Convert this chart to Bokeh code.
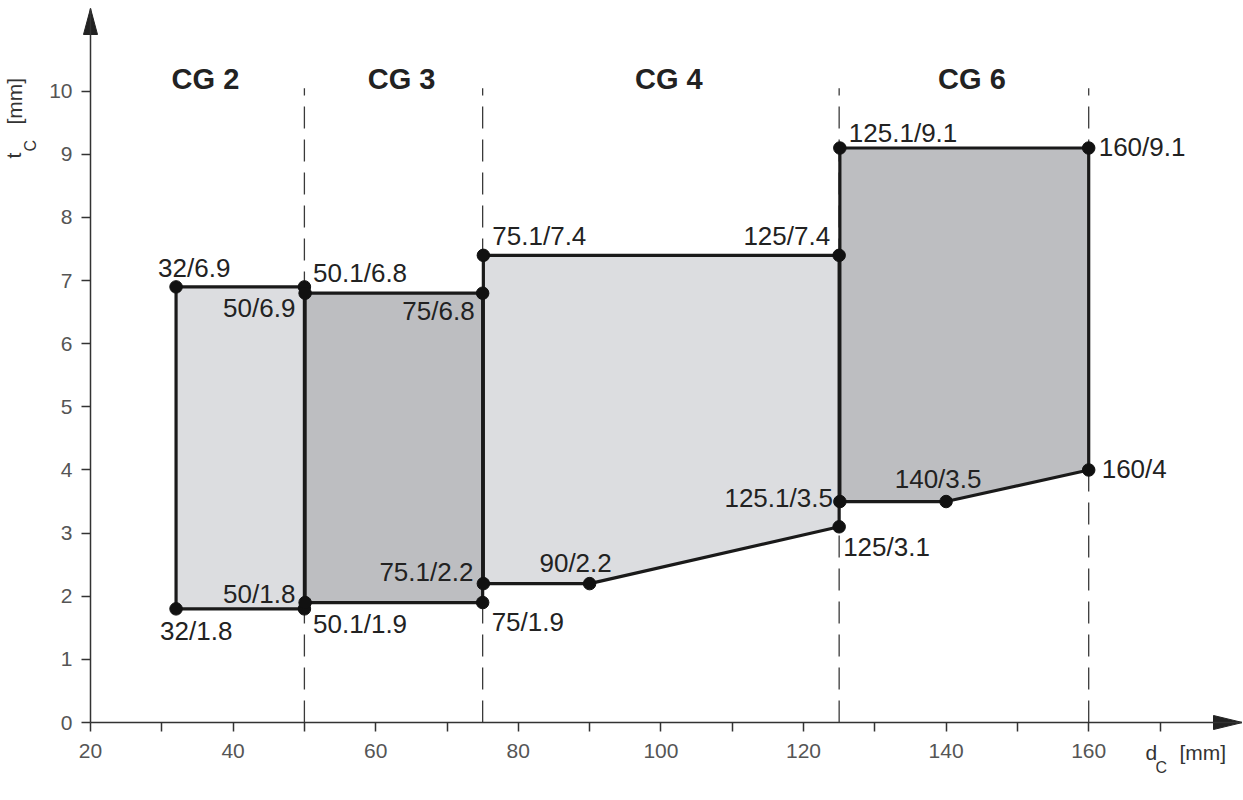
import numpy as np
from bokeh.plotting import figure
from bokeh.models import ColumnDataSource, FixedTicker, Label, Range1d
from bokeh.core.properties import value
from bokeh.embed import file_html
from bokeh.resources import INLINE

# ---------------- data ----------------
groups = ["CG 2", "CG 3", "CG 4", "CG 6"]
group_edges = [20, 50, 75, 125, 160]

cg2_x = [32, 50, 50, 32]
cg2_y = [1.8, 1.8, 6.9, 6.9]
cg3_x = [50.1, 75, 75, 50.1]
cg3_y = [1.9, 1.9, 6.8, 6.8]
cg4_x = [75.1, 90, 125, 125, 75.1]
cg4_y = [2.2, 2.2, 3.1, 7.4, 7.4]
cg6_x = [125.1, 140, 160, 160, 125.1]
cg6_y = [3.5, 3.5, 4, 9.1, 9.1]

x_ticks = [20, 40, 60, 80, 100, 120, 140, 160]
x_minor_ticks = [30, 50, 70, 90, 110, 130, 150, 170]
y_ticks = [0, 1, 2, 3, 4, 5, 6, 7, 8, 9, 10]

# ---------------- styles ----------------
FONT_NAME = "Liberation Sans"
FONT = value(FONT_NAME)
LIGHT = "#dcdde0"
DARK = "#bdbec1"
fills = [LIGHT, DARK, LIGHT, DARK]
BASE_FIX = 0.36          # empirical baseline correction (fraction of font size)
LABEL_PX = 26
TITLE_PX = 29
AXLAB_PX = 21
SUB_PX = 16

# label placement (align, dx px, dy px; dy positive = down)
LABEL_STYLE = {
    "32/1.8": ("left", -16, 31),
    "50/1.8": ("right", -9, -6),
    "50/6.9": ("right", -9, 30),
    "32/6.9": ("left", -18, -10),
    "50.1/1.9": ("left", 8, 31),
    "75/1.9": ("left", 9, 29),
    "75/6.8": ("right", -8, 27),
    "50.1/6.8": ("left", 8, -11),
    "75.1/2.2": ("right", -10, -2),
    "90/2.2": ("center", -14, -11),
    "125/3.1": ("left", 4, 30),
    "125/7.4": ("right", -9, -10),
    "75.1/7.4": ("left", 9, -10),
    "125.1/3.5": ("right", -7, 6),
    "140/3.5": ("center", -8, -13),
    "160/4": ("left", 13, 8),
    "160/9.1": ("left", 10, 8),
    "125.1/9.1": ("left", 9, -6),
}

# ---------------- canvas geometry (frame = whole canvas) ----------------
W, H = 1242, 798
X0_PX, Y0_PX = 90, 722   # canvas position of data origin (20, 0)
SX, SY = 7.13, 63.13     # px per data unit
x_start = 20 - X0_PX / SX
x_end = x_start + W / SX
y_end = Y0_PX / SY
y_start = y_end - H / SY
ax_x_end = 20 + (W - X0_PX) / SX      # arrow tip of x axis
ax_y_end = (Y0_PX - 8) / SY           # arrow tip of y axis


def dx(px):
    return px / SX


def dy(px):
    return px / SY


def cx(px):
    return x_start + px / SX


def cy(py):
    return y_end - py / SY


p = figure(width=W, height=H, output_backend="svg", toolbar_location=None,
           x_range=Range1d(x_start, x_end), y_range=Range1d(y_start, y_end),
           min_border=0, min_border_left=0, min_border_bottom=0,
           min_border_top=0, min_border_right=0)
p.outline_line_color = None
p.xgrid.visible = False
p.ygrid.visible = False
p.background_fill_color = "white"
p.border_fill_color = "white"

# axes
for ax in (p.xaxis[0], p.yaxis[0]):
    ax.axis_line_color = "#333333"
    ax.axis_line_width = 1.5
    ax.major_tick_line_color = "#333333"
    ax.minor_tick_line_color = "#333333"
    ax.major_tick_line_width = 1.5
    ax.minor_tick_line_width = 1.5
    ax.major_tick_in = 0
    ax.major_tick_out = 9
    ax.major_label_text_font = FONT_NAME
    ax.major_label_text_font_size = "21px"
    ax.major_label_text_color = "#555555"

p.xaxis.major_label_standoff = 12
p.yaxis.major_label_standoff = 9
p.xaxis.fixed_location = 0
p.yaxis.fixed_location = 20
p.xaxis.bounds = (20, ax_x_end)
p.yaxis.bounds = (0, ax_y_end)
p.xaxis.ticker = FixedTicker(ticks=x_ticks, minor_ticks=x_minor_ticks)
p.xaxis.minor_tick_in = 0
p.xaxis.minor_tick_out = 9
p.yaxis.ticker = FixedTicker(ticks=y_ticks, minor_ticks=[])
p.yaxis.minor_tick_out = 0
p.yaxis.minor_tick_in = 0

# arrowheads
p.patch([20 - dx(7), 20, 20 + dx(7)],
        [ax_y_end - dy(26), ax_y_end, ax_y_end - dy(26)],
        color="#222222", line_width=1)
p.patch([ax_x_end - dx(29), ax_x_end, ax_x_end - dx(29)], [dy(7), 0, -dy(7)],
        color="#222222", line_width=1)

# dashed group separators
sep = group_edges[1:]
p.segment(x0=sep, y0=[0] * len(sep), x1=sep, y1=[max(y_ticks) + dy(3)] * len(sep),
          line_color="#3a3a3a", line_width=1.3, line_dash="22 11")

# group titles
mids = [(a + b) / 2 for a, b in zip(group_edges[:-1], group_edges[1:])]
p.text(x=mids, y=[max(y_ticks)] * len(mids), text=groups, text_font=FONT,
       text_font_size=f"{TITLE_PX}px", text_font_style="bold", text_color="#222222",
       text_align="center", text_baseline="alphabetic", x_offset=8,
       y_offset=-2 - BASE_FIX * TITLE_PX)

# polygons
polys = [(cg2_x, cg2_y), (cg3_x, cg3_y), (cg4_x, cg4_y), (cg6_x, cg6_y)]
for (xs, ys), fc in zip(polys, fills):
    p.patch(xs, ys, fill_color=fc, line_color="#1a1a1a", line_width=3.2)

# points
all_x = [v for xs, _ in polys for v in xs]
all_y = [v for _, ys in polys for v in ys]
p.scatter(all_x, all_y, size=12.5, color="#111111")

# point labels
by_align = {}
for xv, yv in zip(all_x, all_y):
    t = f"{xv:g}/{yv:g}"
    al, ox, oy = LABEL_STYLE[t]
    d = by_align.setdefault(al, dict(x=[], y=[], text=[], xo=[], yo=[]))
    d["x"].append(xv); d["y"].append(yv); d["text"].append(t)
    d["xo"].append(ox); d["yo"].append(oy - BASE_FIX * LABEL_PX)
for al, d in by_align.items():
    src = ColumnDataSource(d)
    p.text(x="x", y="y", text="text", x_offset="xo", y_offset="yo", source=src,
           text_font=FONT, text_font_size=f"{LABEL_PX}px", text_color="#222222",
           text_align=al, text_baseline="alphabetic")

# axis titles (canvas px -> data)
lab_kw = dict(text_font=FONT_NAME, text_color="#333333", text_baseline="alphabetic",
              text_align="left")
fa, fs = BASE_FIX * AXLAB_PX, BASE_FIX * SUB_PX
p.add_layout(Label(x=cx(21 - fa), y=cy(158), text="t", angle=np.pi / 2,
                   text_font_size=f"{AXLAB_PX}px", **lab_kw))
p.add_layout(Label(x=cx(36 - fs), y=cy(151), text="C", angle=np.pi / 2,
                   text_font_size=f"{SUB_PX}px", **lab_kw))
p.add_layout(Label(x=cx(22 - fa), y=cy(124), text="[mm]", angle=np.pi / 2,
                   text_font_size=f"{AXLAB_PX}px", **lab_kw))
p.add_layout(Label(x=cx(1145), y=cy(760 - fa), text="d",
                   text_font_size=f"{AXLAB_PX}px", **lab_kw))
p.add_layout(Label(x=cx(1155), y=cy(773 - fs), text="C",
                   text_font_size=f"{SUB_PX}px", **lab_kw))
p.add_layout(Label(x=cx(1179), y=cy(760 - fa), text="[mm]",
                   text_font_size=f"{AXLAB_PX}px", **lab_kw))

open("out.html", "w").write(file_html(p, INLINE))
